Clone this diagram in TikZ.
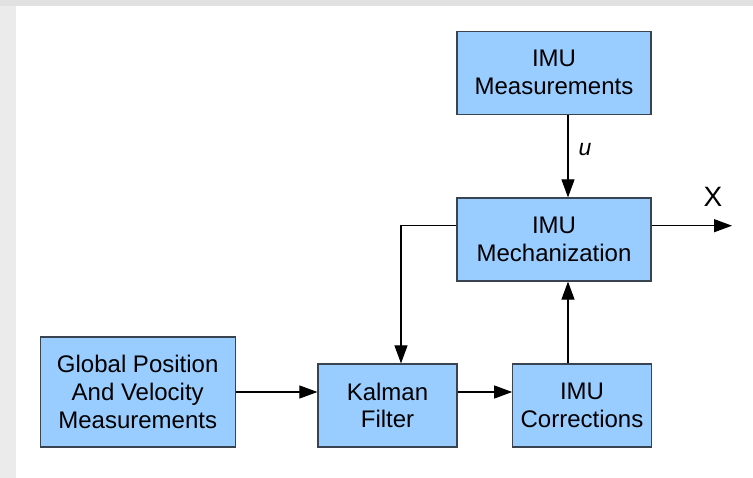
\documentclass[tikz,border=0pt]{standalone}
\usepackage{fontspec}
\setmainfont{Liberation Sans}
\usetikzlibrary{arrows.meta}
\definecolor{boxfill}{HTML}{99CCFF}
\definecolor{boxline}{HTML}{3A4450}
\definecolor{bandtop}{HTML}{E1E1E1}
\definecolor{bandleft}{HTML}{EBEBEB}
\tikzset{
  blk/.style={draw=boxline, fill=boxfill, line width=1.2pt, align=center,
    inner sep=0pt, font=\fontsize{24}{27.7}\selectfont},
  arr/.style={line width=1.1pt, -{Triangle[length=18pt,width=13pt]}},
  lbl/.style={inner sep=0pt}
}
\begin{document}
\begin{tikzpicture}[x=1pt,y=-1pt]
\useasboundingbox (0,0) rectangle (753,478);
\fill[white] (0,0) rectangle (753,478);
\fill[bandleft] (0,0) rectangle (16,478);
\fill[bandtop] (0,0) rectangle (753,6);

\node[blk, minimum width=194pt, minimum height=83pt] (meas) at (554,72.7) {IMU\\Measurements};
\node[blk, minimum width=194pt, minimum height=83pt] (mech) at (554,239.5) {IMU\\Mechanization};
\node[blk, minimum width=195pt, minimum height=110pt] (gps) at (137.7,392) {Global Position\\And Velocity\\Measurements};
\node[blk, minimum width=139pt, minimum height=83pt] (kf) at (387.5,405.5) {Kalman\\Filter};
\node[blk, minimum width=138.5pt, minimum height=83pt] (corr) at (582,405.5) {IMU\\Corrections};

\coordinate (vx) at (568,0);
\coordinate (xo) at (732,225.7);
\coordinate (fb) at (401,225.7);

\draw[arr] (gps.east) -- (gps.east -| kf.west);
\draw[arr] (kf.east |- gps.east) -- (corr.west |- gps.east);
\draw[arr] (corr.north -| vx) -- (mech.south -| vx);
\draw[arr] (meas.south -| vx) -- (mech.north -| vx);
\draw[arr] (mech.east |- xo) -- (xo);
\draw[arr] (mech.west |- fb) -- (fb) -- (kf.north -| fb);

\node[lbl, font=\fontsize{23}{27}\selectfont\itshape] (u) at (585,150) {u};
\node[lbl, font=\fontsize{28}{32}\selectfont] (X) at (713,197) {X};
\end{tikzpicture}
\end{document}
